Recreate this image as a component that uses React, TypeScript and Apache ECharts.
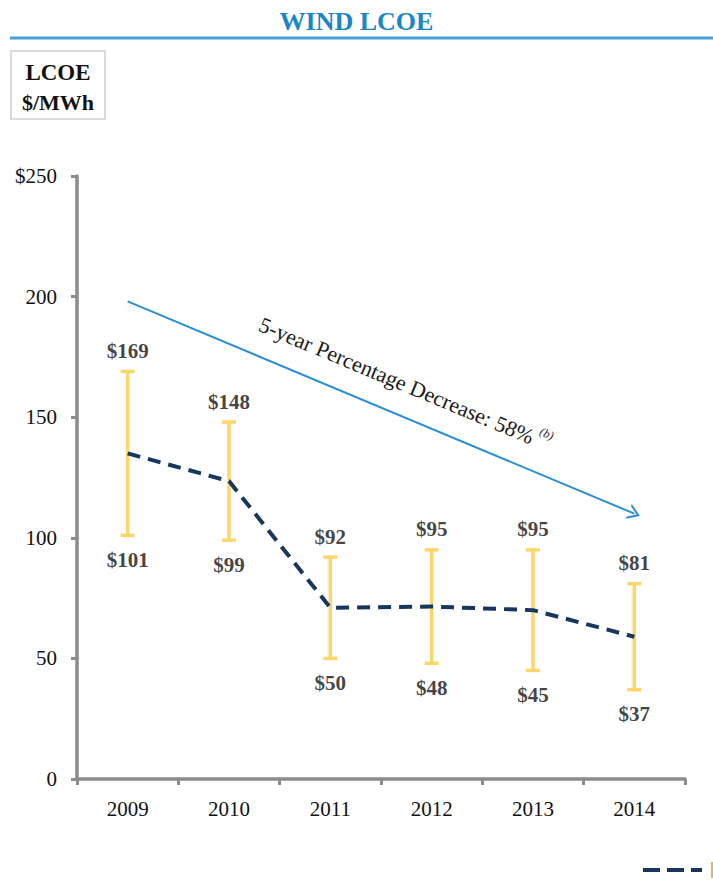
import React, { useEffect, useRef } from "react";
import * as echarts from "echarts";

const years = ["2009", "2010", "2011", "2012", "2013", "2014"];
const highs = [169, 148, 92, 95, 95, 81];
const lows = [101, 99, 50, 48, 45, 37];
const mids = [135, 123.5, 71, 71.5, 70, 59];
const yTicks = [0, 50, 100, 150, 200, 250];
const arrowStart = ["2009", 198];
const arrowEnd = ["2014", 110];

const SERIF = "'Liberation Serif', 'DejaVu Serif', serif";
const YELLOW = "#FDD66B";
const NAVY = "#17375E";
const BLUE = "#2B8FD6";
const AXIS = "#8C8C8C";

export default function App() {
  const ref = useRef<HTMLDivElement>(null);
  useEffect(() => {
    if (!ref.current) return;
    const chart = echarts.init(ref.current, null, { renderer: "svg" });
    const option: any = {
      animation: false,
      backgroundColor: "#ffffff",
      title: {
        text: "WIND LCOE",
        left: "center",
        top: 3,
        textStyle: { fontFamily: SERIF, fontWeight: "bold", fontSize: 26, color: "#1A86C6" },
      },
      graphic: [
        { type: "line", shape: { x1: 10, y1: 38, x2: 713, y2: 38 }, style: { stroke: "#45A0DA", lineWidth: 3 } },
        { type: "rect", shape: { x: 11, y: 51, width: 94, height: 68 }, style: { fill: "#fff", stroke: "#CFCFCF", lineWidth: 1.5 } },
        { type: "text", x: 58, y: 72, style: { text: "LCOE", font: `bold 23px ${SERIF}`, fill: "#111", textAlign: "center", textVerticalAlign: "middle" } },
        { type: "text", x: 58, y: 102, style: { text: "$/MWh", font: `bold 22px ${SERIF}`, fill: "#111", textAlign: "center", textVerticalAlign: "middle" } },
        { type: "line", shape: { x1: 643, y1: 870, x2: 702, y2: 870 }, style: { stroke: NAVY, lineWidth: 4, lineDash: [17, 7] } },
        { type: "line", shape: { x1: 712, y1: 862, x2: 712, y2: 878 }, style: { stroke: "#E2B457", lineWidth: 2 } },
      ],
      grid: { left: 77, right: 28, top: 176, bottom: 102, containLabel: false },
      xAxis: {
        type: "category",
        data: years,
        boundaryGap: true,
        axisLine: { show: true, lineStyle: { color: AXIS, width: 3.5 } },
        axisTick: { show: true, length: 6, lineStyle: { color: AXIS, width: 3 } },
        axisLabel: { margin: 19, fontFamily: SERIF, fontSize: 21, color: "#111" },
        splitLine: { show: false },
      },
      yAxis: {
        type: "value",
        min: 0,
        max: 250,
        interval: 50,
        axisLine: { show: true, lineStyle: { color: AXIS, width: 3.5 } },
        axisTick: { show: true, length: 6, lineStyle: { color: AXIS, width: 3 } },
        axisLabel: {
          margin: 20,
          fontFamily: SERIF,
          fontSize: 21,
          color: "#111",
          formatter: (v: number) => (v === yTicks[yTicks.length - 1] ? "$" + v : String(v)),
        },
        splitLine: { show: false },
      },
      series: [
        {
          type: "custom",
          name: "Range",
          data: years.map((_, i) => [i, lows[i], highs[i]]),
          encode: { x: 0, y: [1, 2] },
          z: 2,
          renderItem: (params: any, api: any) => {
            const x = api.value(0);
            const lo = api.coord([x, api.value(1)]);
            const hi = api.coord([x, api.value(2)]);
            const hw = 7;
            const st = { stroke: YELLOW, lineWidth: 3.5 };
            return {
              type: "group",
              children: [
                { type: "line", shape: { x1: lo[0], y1: lo[1], x2: hi[0], y2: hi[1] }, style: st },
                { type: "line", shape: { x1: lo[0] - hw, y1: lo[1], x2: lo[0] + hw, y2: lo[1] }, style: st },
                { type: "line", shape: { x1: hi[0] - hw, y1: hi[1], x2: hi[0] + hw, y2: hi[1] }, style: st },
              ],
            };
          },
        },
        {
          type: "line",
          name: "Midpoint",
          data: mids,
          symbol: "none",
          z: 3,
          lineStyle: { color: NAVY, width: 4, type: [13, 8] },
          markLine: {
            silent: true,
            symbol: ["none", "path://M0,20 L10,0 L20,20 L17,20 L10,6 L3,20 Z"],
            symbolSize: [16, 12],
            lineStyle: { color: BLUE, width: 2, type: "solid" },
            label: {
              show: true,
              position: "insideMiddleTop",
              distance: 20,
              formatter: "{a|5-year Percentage Decrease: 58%}{b|(b)}",
              rich: {
                a: { fontFamily: SERIF, fontSize: 22, color: "#1a1a1a", verticalAlign: "bottom", padding: [0, 0, 0, 26] },
                b: { fontFamily: SERIF, fontSize: 12, fontStyle: "italic", color: "#1a1a1a", verticalAlign: "bottom", padding: [0, 0, 14, 4] },
              },
            },
            data: [[{ coord: arrowStart }, { coord: arrowEnd }]],
          },
        },
        {
          type: "scatter",
          name: "High",
          data: highs,
          symbolSize: 0,
          z: 4,
          label: {
            show: true,
            position: "top",
            distance: 10,
            formatter: (p: any) => "$" + p.data,
            fontFamily: SERIF,
            fontWeight: "bold",
            fontSize: 21,
            color: "#111",
          },
        },
        {
          type: "scatter",
          name: "Low",
          data: lows,
          symbolSize: 0,
          z: 4,
          label: {
            show: true,
            position: "bottom",
            distance: 14,
            formatter: (p: any) => "$" + p.data,
            fontFamily: SERIF,
            fontWeight: "bold",
            fontSize: 21,
            color: "#111",
          },
        },
      ],
    };
    chart.setOption(option);
    return () => chart.dispose();
  }, []);
  return <div ref={ref} style={{ position: "absolute", left: 0, top: 0, width: 713, height: 881 }} />;
}
